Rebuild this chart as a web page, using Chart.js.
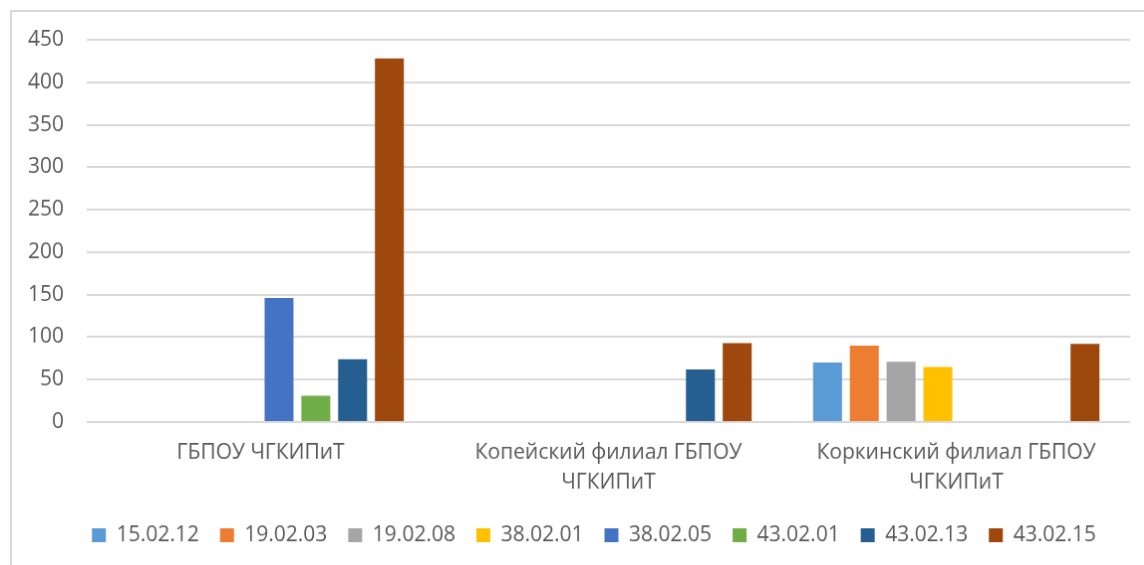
<!DOCTYPE html>
<html>
<head>
<meta charset="utf-8">
<script src="https://cdn.jsdelivr.net/npm/chart.js@4"></script>
<style>
  html, body { margin: 0; padding: 0; background: #fff; overflow: hidden; }
  #chart {
    position: absolute;
    left: 10px;
    top: 10px;
    width: 1160px;
    height: 560px;
    border: 2px solid #d9d9d9;
  }
</style>
</head>
<body>
<canvas id="chart" width="1160" height="560"></canvas>
<script>
// категории (филиалы)
const categories = [
  'ГБПОУ ЧГКИПиТ',
  ['Копейский филиал ГБПОУ', 'ЧГКИПиТ'],
  ['Коркинский филиал ГБПОУ', 'ЧГКИПиТ'],
];

// специальности
const seriesNames = [
  '15.02.12', '19.02.03', '19.02.08', '38.02.01',
  '38.02.05', '43.02.01', '43.02.13', '43.02.15',
];

// значения по специальностям (по категориям)
const s150212 = [null, null, 70];
const s190203 = [null, null, 90];
const s190208 = [null, null, 71];
const s380201 = [null, null, 65];
const s380205 = [146, null, null];
const s430201 = [31, null, null];
const s430213 = [74, 62, null];
const s430215 = [428, 93, 92];

const yTicksMax = 450;
const yTicksStep = 50;

const seriesValues = [s150212, s190203, s190208, s380201, s380205, s430201, s430213, s430215];
const seriesColors = [
  '#5B9BD5', '#ED7D31', '#A5A5A5', '#FFC000',
  '#4472C4', '#70AD47', '#255E91', '#9E480E',
];

const textColor = '#595959';
const fontFamily = '"Open Sans", "Liberation Sans", sans-serif';

// легенда в оригинале смещена вправо относительно холста
const legendShift = {
  id: 'legendShift',
  afterLayout(chart) {
    chart.legend.left += 23;
    chart.legend.right += 23;
  },
};

new Chart(document.getElementById('chart').getContext('2d'), {
  type: 'bar',
  data: {
    labels: categories,
    datasets: seriesNames.map((name, i) => ({
      label: name,
      data: seriesValues[i],
      backgroundColor: seriesColors[i],
      borderWidth: 0,
      categoryPercentage: 0.846,
      barPercentage: 0.786,
    })),
  },
  options: {
    responsive: false,
    animation: false,
    layout: {
      padding: { left: 0, right: 38, top: 28, bottom: 12.5 },
    },
    plugins: {
      tooltip: { enabled: false },
      legend: {
        position: 'bottom',
        labels: {
          boxWidth: 14,
          boxHeight: 14,
          padding: 21,
          color: textColor,
          font: { family: fontFamily, size: 21 },
        },
      },
    },
    scales: {
      x: {
        grid: { display: false, drawTicks: false },
        border: { display: false },
        ticks: {
          color: textColor,
          padding: 16,
          maxRotation: 0,
          font: { family: fontFamily, size: 21, lineHeight: 1.43 },
        },
        afterFit(scale) { scale.height = 82.5; },
      },
      y: {
        min: 0,
        max: yTicksMax,
        grid: { color: '#d9d9d9', lineWidth: 2, drawTicks: false },
        border: { display: false },
        ticks: {
          stepSize: yTicksStep,
          color: textColor,
          padding: 23,
          font: { family: fontFamily, size: 21 },
        },
        afterFit(scale) {
          scale.width = 75;
          scale.paddingTop = 0;
          scale.paddingBottom = 0;
        },
      },
    },
  },
  plugins: [legendShift],
});
</script>
</body>
</html>
